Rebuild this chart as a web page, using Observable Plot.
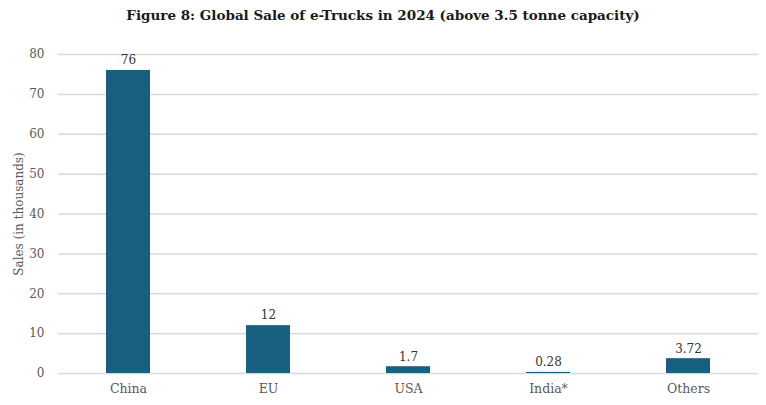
<!DOCTYPE html>
<html><head><meta charset="utf-8">
<script src="https://cdn.jsdelivr.net/npm/d3@7"></script>
<script src="https://cdn.jsdelivr.net/npm/@observablehq/plot@0.6"></script>
<style>
body{margin:0;background:#fff;font-family:"DejaVu Serif",serif;}
#title{height:30px;line-height:30px;text-align:center;font-weight:bold;font-size:13.5px;color:#1a1a1a;}
</style>
</head><body>
<div id="title">Figure 8: Global Sale of e-Trucks in 2024 (above 3.5 tonne capacity)</div>
<div id="chart"></div>
<script>
const regions = ["China", "EU", "USA", "India*", "Others"];
const sales = [76, 12, 1.7, 0.28, 3.72];
const labels = ["76", "12", "1.7", "0.28", "3.72"];
const yTicks = [0, 10, 20, 30, 40, 50, 60, 70, 80];

const data = regions.map((r, i) => ({region: r, value: sales[i], label: labels[i]}));

const chart = Plot.plot({
  width: 766,
  height: 375,
  marginTop: 24,
  marginBottom: 32,
  marginLeft: 58,
  marginRight: 8,
  style: {fontFamily: "DejaVu Serif, serif", fontSize: "12px", color: "#595959"},
  x: {domain: regions, paddingInner: 0.686, paddingOuter: 0.343, label: null},
  y: {domain: [0, 80], label: "Sales (in thousands)"},
  marks: [
    Plot.ruleY(yTicks, {stroke: "#d9d9d9", strokeWidth: 1.5}),
    Plot.barY(data, {x: "region", y: "value", fill: "#185f80"}),
    Plot.text(data, {x: "region", y: "value", text: "label", dy: -10, fill: "#333", fontSize: 12}),
    Plot.axisX({tickSize: 0, tickPadding: 11, fontSize: 12.5, fill: "#595959"}),
    Plot.axisY({ticks: yTicks, tickSize: 0, tickPadding: 14, label: "Sales (in thousands)", labelAnchor: "center", labelArrow: "none", labelOffset: 44, fill: "#595959", fontSize: 12})
  ]
});
document.getElementById("chart").appendChild(chart);
</script>
</body></html>
